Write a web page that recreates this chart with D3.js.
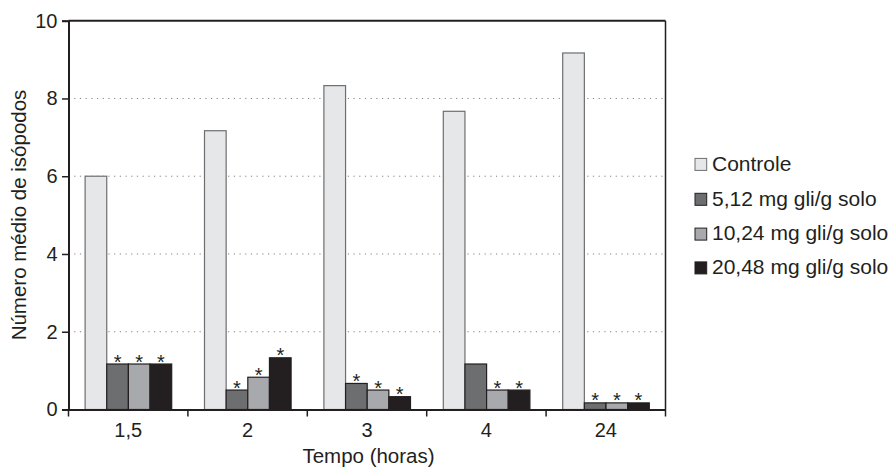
<!DOCTYPE html>
<html><head><meta charset="utf-8">
<script src="https://cdn.jsdelivr.net/npm/d3@7"></script>
<style>body{margin:0;background:#fff}svg{display:block}text{font-family:"Liberation Sans",Arial,sans-serif;fill:#231f20}</style>
</head><body><svg id="c" width="893" height="469"></svg>
<script>
const categories = ["1,5","2","3","4","24"];
const seriesNames = ["Controle","5,12 mg gli/g solo","10,24 mg gli/g solo","20,48 mg gli/g solo"];
const controle = [6.0, 7.17, 8.33, 7.67, 9.17];
const dose512 = [1.17, 0.5, 0.67, 1.17, 0.17];
const dose1024 = [1.17, 0.83, 0.5, 0.5, 0.17];
const dose2048 = [1.17, 1.33, 0.33, 0.5, 0.17];
// significance marks (1 = asterisk)
const sig512 = [1,1,1,0,1];
const sig1024 = [1,1,1,1,1];
const sig2048 = [1,1,1,1,1];
const yTicks = [0,2,4,6,8,10];
const colors = ["#e6e7e8","#6d6e70","#a7a9ac","#231f20"];
const strokes = ["#6d6e70","#231f20","#231f20","#231f20"];

const series = [controle, dose512, dose1024, dose2048];
const sigs = [null, sig512, sig1024, sig2048];

const svg = d3.select("#c");
const m = {l:68.5, r:665.5, t:20.7, b:409.5};
const x = d3.scaleBand().domain(categories).range([m.l, m.r]).paddingInner(0).paddingOuter(0);
const x1 = d3.scaleBand().domain(d3.range(4)).range([16.6, x.bandwidth()-16.2]);
const y = d3.scaleLinear().domain([0,10]).range([m.b, m.t]);

// grid
svg.append("g").selectAll("line").data(yTicks.filter(d=>d>0 && d<10)).join("line")
  .attr("x1", m.l).attr("x2", m.r).attr("y1", d=>y(d)).attr("y2", d=>y(d))
  .attr("stroke","#808285").attr("stroke-width",1).attr("stroke-dasharray","1.2,4.5");

// bars
const g = svg.append("g");
categories.forEach((c,i)=>{
  series.forEach((s,j)=>{
    const bx = x(c)+x1(j);
    g.append("rect").attr("x", bx).attr("y", y(s[i])).attr("width", x1.bandwidth()).attr("height", y(0)-y(s[i]))
      .attr("fill", colors[j]).attr("stroke", strokes[j]).attr("stroke-width",1.2);
    if (sigs[j] && sigs[j][i]) {
      g.append("text").attr("x", bx + x1.bandwidth()/2).attr("y", y(s[i]) + 4.5)
        .attr("text-anchor","middle").attr("font-size",20).text("*");
    }
  });
});

// frame top and right
svg.append("line").attr("x1",m.l).attr("x2",m.r).attr("y1",m.t).attr("y2",m.t).attr("stroke","#231f20").attr("stroke-width",2);
svg.append("line").attr("x1",m.r).attr("x2",m.r).attr("y1",m.t).attr("y2",m.b).attr("stroke","#231f20").attr("stroke-width",1.5);

// axes
const yAxis = d3.axisLeft(y).tickValues(yTicks).tickSize(6.5).tickPadding(4.5).tickFormat(d3.format("d"));
const ya = svg.append("g").attr("transform",`translate(${m.l},0)`).call(yAxis);
ya.select(".domain").attr("stroke","#231f20").attr("stroke-width",2);
ya.selectAll(".tick line").attr("stroke","#231f20").attr("stroke-width",1.5);
ya.selectAll("text").attr("font-size",20).attr("fill","#231f20").style("font-family","Liberation Sans, Arial, sans-serif");

const xAxis = d3.axisBottom(x).tickSize(0).tickPadding(0);
const xa = svg.append("g").attr("transform",`translate(0,${m.b})`).call(xAxis);
xa.select(".domain").attr("stroke","#231f20").attr("stroke-width",2);
xa.selectAll("text").attr("font-size",20).attr("fill","#231f20").style("font-family","Liberation Sans, Arial, sans-serif").attr("dy",null).attr("y",27.5);
// boundary ticks between categories
const bounds = categories.map(c=>x(c)).concat([m.r]);
svg.append("g").selectAll("line").data(bounds).join("line")
  .attr("x1",d=>d).attr("x2",d=>d).attr("y1",m.b).attr("y2",m.b+7)
  .attr("stroke","#231f20").attr("stroke-width",1.5);

// labels
svg.append("text").attr("x", 368.5).attr("y", 463).attr("text-anchor","middle").attr("font-size",20.5).text("Tempo (horas)");
svg.append("text").attr("transform","translate(26,215) rotate(-90)").attr("text-anchor","middle").attr("font-size",20.5).text("Número médio de isópodos");

// legend
const lg = svg.append("g");
const ly = [170.7, 205.6, 240.4, 274.2];
seriesNames.forEach((n,j)=>{
  lg.append("rect").attr("x",695).attr("y",ly[j]-12.3).attr("width",11.7).attr("height",12)
    .attr("fill",colors[j]).attr("stroke",strokes[j]).attr("stroke-width",1);
  lg.append("text").attr("x",712).attr("y",ly[j]).attr("font-size",21).text(n);
});
</script></body></html>
